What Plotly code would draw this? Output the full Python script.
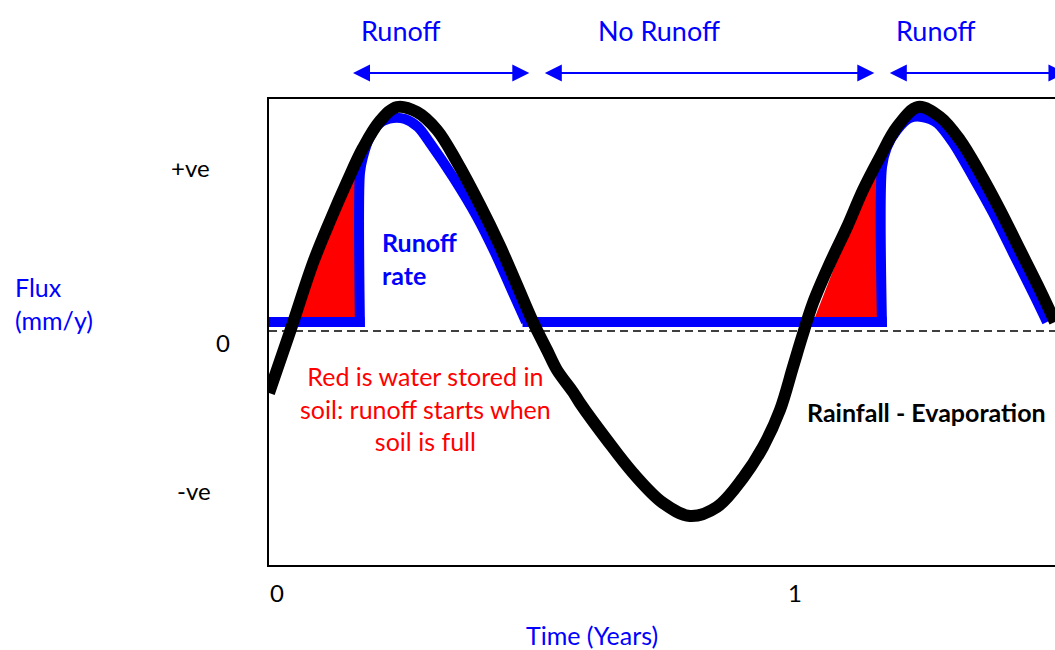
import plotly.graph_objects as go

# ---- data (time in years, flux in arbitrary units) ----
black_t = [-0.0154, 0.0270, 0.0695, 0.1023, 0.1351, 0.1660, 0.1988, 0.2317,
           0.2703, 0.3089, 0.3475, 0.3919, 0.4305, 0.4633, 0.4942, 0.5212, 0.5405, 0.5714,
           0.5849, 0.6371, 0.6873, 0.7452, 0.7973, 0.8494, 0.8996, 0.9382, 0.9710, 0.9961,
           1.0135, 1.0347, 1.0676, 1.1004, 1.1313, 1.1641, 1.1969, 1.2375, 1.2799, 1.3185,
           1.3571, 1.3958, 1.4344, 1.4730, 1.5019]
black_y = [-0.62, 0.02, 0.68, 1.10, 1.49, 1.83, 2.10, 2.24,
           2.19, 2.01, 1.69, 1.26, 0.85, 0.46, 0.09, -0.19, -0.39, -0.61,
           -0.72, -1.09, -1.42, -1.72, -1.85, -1.76, -1.47, -1.16, -0.79, -0.36,
           -0.06, 0.28, 0.68, 1.04, 1.41, 1.74, 2.04, 2.24, 2.14, 1.91,
           1.58, 1.21, 0.81, 0.41, 0.09]

base_flow = 0.09
flat_t = [[-0.0154, 0.1690], [0.4740, 1.1770]]

hump1_t = [0.1602, 0.1602, 0.1660, 0.1795, 0.1988, 0.2239, 0.2471, 0.2722, 0.2954, 0.3398,
           0.3861, 0.4247, 0.4556, 0.4807]
hump1_y = [0.04, 1.58, 1.74, 1.94, 2.08, 2.13, 2.12, 2.04, 1.88, 1.54,
           1.14, 0.74, 0.38, 0.09]
hump2_t = [1.1680, 1.1680, 1.1776, 1.1969, 1.2220, 1.2452, 1.2741, 1.3050, 1.3436, 1.3822,
           1.4208, 1.4595, 1.4865]
hump2_y = [0.04, 1.64, 1.84, 2.01, 2.13, 2.14, 2.08, 1.88, 1.54, 1.18,
           0.78, 0.38, 0.09]

red1_t = [0.0386, 0.1544, 0.1544]
red1_y = [0.09, 1.79, 0.09]
red2_t = [1.0350, 1.1622, 1.1622]
red2_y = [0.09, 1.79, 0.09]

period_names = ["Runoff", "No Runoff", "Runoff"]
period_start = [0.1467, 0.5170, 1.1830]
period_end = [0.4900, 1.1560, 1.5250]
period_label_x = [0.2375, 0.7375, 1.2703]

x_ticks = [0, 1]
x_ticktext = ["0", "1"]
y_label_text = ["+ve", "0", "-ve"]
y_label_val = [1.64, -0.11, -1.59]
y_label_x = [-0.1005, -0.0585, -0.0954]

BLUE = "#0000ff"
FONT = "Lato"

fig = go.Figure()
for rt, ry in [(red1_t, red1_y), (red2_t, red2_y)]:
    fig.add_trace(go.Scatter(x=rt, y=ry, mode="lines", fill="toself", fillcolor="#ff0000",
                             line=dict(width=0, color="#ff0000"), hoverinfo="skip"))
for ft in flat_t:
    fig.add_trace(go.Scatter(x=ft, y=[base_flow, base_flow], mode="lines",
                             line=dict(color=BLUE, width=10), hoverinfo="skip"))
for ht, hy in [(hump1_t, hump1_y), (hump2_t, hump2_y)]:
    fig.add_trace(go.Scatter(x=ht, y=hy, mode="lines",
                             line=dict(color=BLUE, width=10, shape="spline", smoothing=0.8),
                             hoverinfo="skip"))
fig.add_trace(go.Scatter(x=black_t, y=black_y, mode="lines",
                         line=dict(color="black", width=12, shape="spline", smoothing=1.0),
                         hoverinfo="skip"))

fig.add_shape(type="line", xref="paper", yref="y", x0=0, x1=1, y0=0, y1=0,
              line=dict(color="black", width=1.5, dash="8px,5px"), layer="below")

ann = []
for name, a, b, lx in zip(period_names, period_start, period_end, period_label_x):
    ann.append(dict(x=lx, y=1.148, xref="x", yref="paper", text=name, showarrow=False,
                    xanchor="center", yanchor="middle",
                    font=dict(family=FONT, size=27, color=BLUE)))
    ann.append(dict(x=a, y=1.0558, xref="x", yref="paper", ax=b, ay=0, axref="x", ayref="pixel",
                    text="", showarrow=True, arrowside="end+start", arrowhead=2, startarrowhead=2,
                    arrowsize=1.7, startarrowsize=1.7, arrowwidth=2, arrowcolor=BLUE))
for txt, yv, xp in zip(y_label_text, y_label_val, y_label_x):
    ann.append(dict(x=xp, y=yv, xref="paper", yref="y", text=txt, showarrow=False,
                    xanchor="center", yanchor="middle",
                    font=dict(family=FONT, size=24, color="black")))
ann.append(dict(x=-0.3257, y=0.5601, xref="paper", yref="paper", text="Flux<br>(mm/y)",
                showarrow=False, xanchor="left", yanchor="middle", align="left",
                font=dict(family=FONT, size=25, color=BLUE)))
ann.append(dict(x=0.4109, y=-0.1502, xref="paper", yref="paper", text="Time (Years)",
                showarrow=False, xanchor="center", yanchor="middle",
                font=dict(family=FONT, size=25, color=BLUE)))
ann.append(dict(x=0.1412, y=0.6567, xref="paper", yref="paper", text="<b>Runoff<br>rate</b>",
                showarrow=False, xanchor="left", yanchor="middle", align="left",
                font=dict(family=FONT, size=25, color=BLUE)))
ann.append(dict(x=0.1985, y=0.3369, xref="paper", yref="paper",
                text="Red is water stored in<br>soil: runoff starts when<br>soil is full",
                showarrow=False, xanchor="center", yanchor="middle", align="center",
                font=dict(family=FONT, size=25, color="#ff0000")))
ann.append(dict(x=0.8359, y=0.3283, xref="paper", yref="paper", text="<b>Rainfall - Evaporation</b>",
                showarrow=False, xanchor="center", yanchor="middle",
                font=dict(family=FONT, size=25, color="black")))

fig.update_layout(
    width=1055, height=650,
    margin=dict(l=269, r=0, t=99, b=85),
    paper_bgcolor="white", plot_bgcolor="white",
    showlegend=False,
    hovermode=False,
    annotations=ann,
    xaxis=dict(range=[-0.0154, 1.5019], showgrid=False, zeroline=False, showline=True, mirror=True,
               linecolor="black", linewidth=2, tickvals=x_ticks, ticktext=x_ticktext, ticks="",
               ticklabelstandoff=6, tickfont=dict(family=FONT, size=24, color="black")),
    yaxis=dict(range=[-2.34, 2.32], showgrid=False, zeroline=False, showline=True, mirror=False,
               linecolor="black", linewidth=2, showticklabels=False, ticks=""),
)
# remove the browser's default 8px body margin so the figure fills the window exactly
fig.write_html("out.html", config={"displayModeBar": False},
               post_script="document.body.style.margin='0';document.body.style.overflow='hidden';")
